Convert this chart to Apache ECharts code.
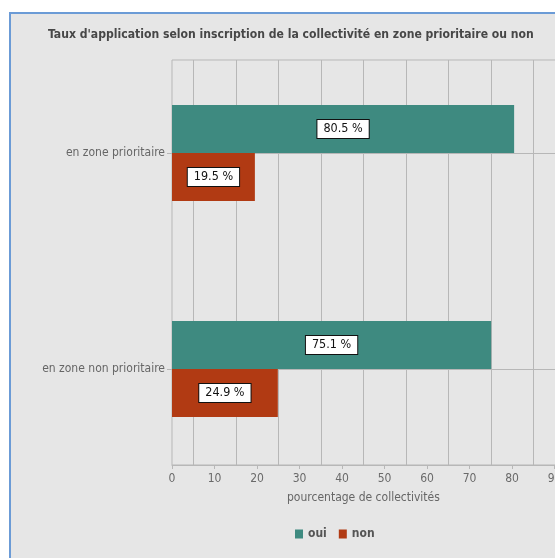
<!DOCTYPE html>
<html>
<head>
<meta charset="utf-8">
<script src="https://cdn.jsdelivr.net/npm/echarts@6/dist/echarts.min.js"></script>
<style>
  html, body { margin: 0; padding: 0; background: #ffffff; overflow: hidden; }
  #frame { position: absolute; left: 9px; top: 12px; width: 600px; height: 600px;
           background: #e6e6e6; border-left: 2px solid #6b9bd6; border-top: 2px solid #6b9bd6; }
  #chart { position: absolute; left: 0; top: 0; width: 555px; height: 558px; }
</style>
</head>
<body>
<div id="frame"></div>
<div id="chart"></div>
<script>
const titleText = "Taux d'application selon inscription de la collectivité en zone prioritaire ou non";
const axisTitle = "pourcentage de collectivités";
const categories = ["en zone prioritaire", "en zone non prioritaire"];
const seriesNames = ["oui", "non"];
const ouiValues = [80.5, 75.1];
const nonValues = [19.5, 24.9];
const xTicks = [0, 10, 20, 30, 40, 50, 60, 70, 80, 90, 100];

const FONT = "'Liberation Sans Narrow', 'DejaVu Sans Condensed', sans-serif";
const GRID_COLOR = "#b7b7b7";

const chart = echarts.init(document.getElementById('chart'), null, { renderer: 'canvas' });

const labelStyle = {
  show: true,
  position: 'inside',
  formatter: p => p.value.toFixed(1) + ' %',
  color: '#111',
  fontFamily: FONT,
  fontSize: 12.5,
  backgroundColor: '#ffffff',
  borderColor: '#111',
  borderWidth: 1,
  padding: [3, 6, 2, 6]
};

chart.setOption({
  backgroundColor: 'transparent',
  animation: false,
  title: [
    {
      text: titleText,
      left: 48, top: 29, padding: 0,
      textStyle: { fontFamily: FONT, fontSize: 12.1, fontWeight: 'bold', color: '#474747' }
    },
    {
      text: axisTitle,
      left: 287, top: 492, padding: 0,
      textStyle: { fontFamily: FONT, fontSize: 12, fontWeight: 'normal', color: '#666' }
    }
  ],
  legend: {
    data: seriesNames,
    left: 290, top: 523,
    itemWidth: 8, itemHeight: 9, itemGap: 12,
    icon: 'rect',
    textStyle: { fontFamily: FONT, fontSize: 12, fontWeight: 'bold', color: '#555' }
  },
  grid: [
    { left: 172, width: 425, top: 45, height: 432, show: false, outerBoundsMode: 'none', containLabel: false },
    { left: 172, width: 425, top: 60, height: 405, show: true, borderColor: GRID_COLOR, borderWidth: 1,
      backgroundColor: 'transparent', outerBoundsMode: 'none', containLabel: false }
  ],
  xAxis: [
    { gridIndex: 0, type: 'value', min: xTicks[0], max: xTicks[xTicks.length - 1], show: false },
    {
      gridIndex: 1, type: 'value', min: xTicks[0], max: xTicks[xTicks.length - 1], interval: 10,
      axisLine: { show: true, lineStyle: { color: GRID_COLOR } },
      axisTick: { show: true, length: 4, lineStyle: { color: GRID_COLOR } },
      axisLabel: { fontFamily: FONT, fontSize: 12, color: '#6a6a6a', margin: 8 },
      splitLine: { show: false },
      minorTick: { show: false, splitNumber: 2 },
      minorSplitLine: { show: true, lineStyle: { color: GRID_COLOR, width: 1 } }
    }
  ],
  yAxis: [
    {
      gridIndex: 0, type: 'category', data: categories, inverse: true,
      axisLine: { show: false },
      axisTick: { show: true, alignWithLabel: true, length: 5, lineStyle: { color: GRID_COLOR } },
      axisLabel: { fontFamily: FONT, fontSize: 12, color: '#666', margin: 7 },
      splitLine: { show: true, alignWithLabel: true, lineStyle: { color: GRID_COLOR } }
    },
    { gridIndex: 1, type: 'value', min: 0, max: 1, show: false }
  ],
  series: [
    {
      name: seriesNames[0], type: 'bar', xAxisIndex: 0, yAxisIndex: 0,
      data: ouiValues, barWidth: 48, barGap: '0%',
      itemStyle: { color: '#3e8a80' },
      label: labelStyle
    },
    {
      name: seriesNames[1], type: 'bar', xAxisIndex: 0, yAxisIndex: 0,
      data: nonValues, barWidth: 48, barGap: '0%',
      itemStyle: { color: '#b13a13' },
      label: labelStyle
    }
  ]
});
</script>
</body>
</html>
